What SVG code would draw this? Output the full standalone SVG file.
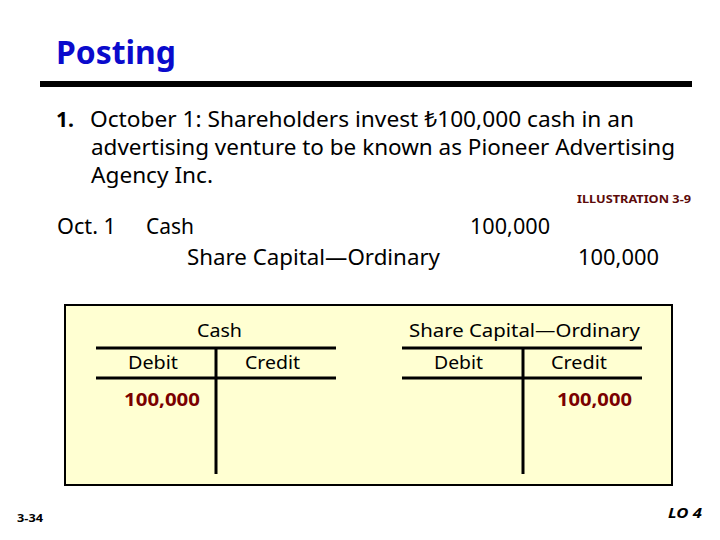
<svg xmlns="http://www.w3.org/2000/svg" width="720" height="540" viewBox="0 0 720 540">
<style>
text { font-family: "Noto Sans", "Open Sans", "DejaVu Sans", sans-serif; fill: #000; }
.body { font-size: 21px; }
.tt { font-size: 18px; }
.num { font-size: 18px; font-weight: bold; fill: #7A0000; }
.tl { stroke: #000; stroke-width: 3; fill: none; }
</style>
<rect width="720" height="540" fill="#fff"/>
<g id="title">
  <text x="56" y="64" style="font-size:32px;font-weight:bold;fill:#0A0ACC" textLength="120" lengthAdjust="spacingAndGlyphs">Posting</text>
</g>
<g id="rule">
  <rect x="40" y="81" width="652" height="6" fill="#000"/>
</g>
<g id="question">
  <text class="body" x="56" y="127" style="font-weight:bold" textLength="18" lengthAdjust="spacingAndGlyphs">1.</text>
  <text class="body" x="90" y="127" textLength="544" lengthAdjust="spacingAndGlyphs">October 1:  Shareholders invest ₺100,000 cash in an</text>
  <text class="body" x="91" y="155" textLength="584" lengthAdjust="spacingAndGlyphs">advertising venture to be known as Pioneer Advertising</text>
  <text class="body" x="91" y="183" textLength="122" lengthAdjust="spacingAndGlyphs">Agency Inc.</text>
</g>
<g id="illustration">
  <text x="577" y="203" style="font-size:11px;font-weight:bold;fill:#5C0A0A" textLength="114" lengthAdjust="spacingAndGlyphs">ILLUSTRATION 3-9</text>
</g>
<g id="journal">
  <text class="body" x="57" y="234" textLength="59" lengthAdjust="spacingAndGlyphs">Oct. 1</text>
  <text class="body" x="146" y="234" textLength="48" lengthAdjust="spacingAndGlyphs">Cash</text>
  <text class="body" x="470" y="234" textLength="80" lengthAdjust="spacingAndGlyphs">100,000</text>
  <text class="body" x="187" y="265" textLength="253" lengthAdjust="spacingAndGlyphs">Share Capital—Ordinary</text>
  <text class="body" x="578" y="265" textLength="81" lengthAdjust="spacingAndGlyphs">100,000</text>
</g>
<g id="box">
  <rect x="65" y="305" width="607" height="180" fill="#FFFFD2" stroke="#000" stroke-width="2"/>
</g>
<g id="t-cash">
  <text class="tt" x="197" y="337" textLength="45" lengthAdjust="spacingAndGlyphs">Cash</text>
  <line class="tl" x1="96" y1="348" x2="336" y2="348"/>
  <line class="tl" x1="96" y1="378" x2="336" y2="378"/>
  <line class="tl" x1="216" y1="348" x2="216" y2="474"/>
  <text class="tt" x="128" y="369" textLength="50" lengthAdjust="spacingAndGlyphs">Debit</text>
  <text class="tt" x="245" y="369" textLength="55" lengthAdjust="spacingAndGlyphs">Credit</text>
  <text class="num" x="124" y="406" textLength="76" lengthAdjust="spacingAndGlyphs">100,000</text>
</g>
<g id="t-share">
  <text class="tt" x="409" y="337" textLength="231" lengthAdjust="spacingAndGlyphs">Share Capital—Ordinary</text>
  <line class="tl" x1="402" y1="348" x2="642" y2="348"/>
  <line class="tl" x1="402" y1="378" x2="642" y2="378"/>
  <line class="tl" x1="523" y1="348" x2="523" y2="474"/>
  <text class="tt" x="434" y="369" textLength="49" lengthAdjust="spacingAndGlyphs">Debit</text>
  <text class="tt" x="551" y="369" textLength="56" lengthAdjust="spacingAndGlyphs">Credit</text>
  <text class="num" x="557" y="406" textLength="75" lengthAdjust="spacingAndGlyphs">100,000</text>
</g>
<g id="connectors"></g>
<g id="footer">
  <text x="17" y="522" style="font-size:10px;font-weight:bold" textLength="26" lengthAdjust="spacingAndGlyphs">3-34</text>
  <text x="668" y="518" style="font-size:14px;font-weight:bold;font-style:italic" textLength="34" lengthAdjust="spacingAndGlyphs">LO 4</text>
</g>
</svg>
